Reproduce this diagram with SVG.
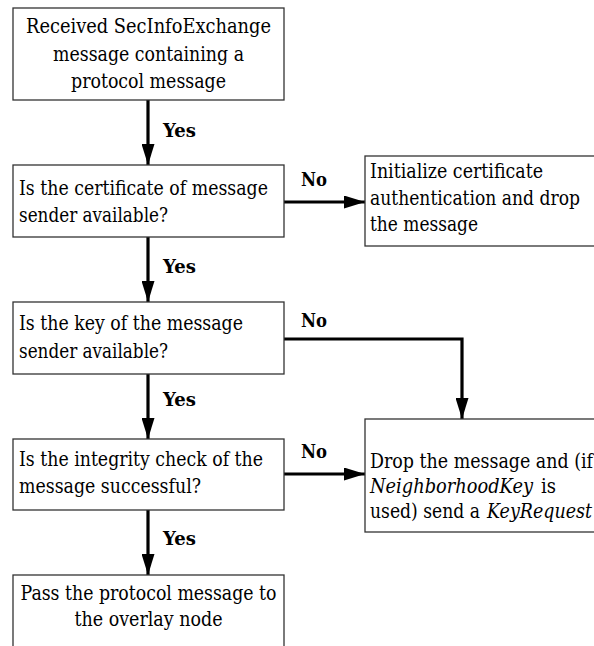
<svg xmlns="http://www.w3.org/2000/svg" width="594" height="646" viewBox="0 0 594 646">
  <style>
    .box { fill: #ffffff; stroke: #333333; stroke-width: 1.3; }
    text { font-family: 'DejaVu Serif', serif; fill: #000000; }
    .t { font-size: 20px; }
    .c { text-anchor: middle; }
    .i { font-style: italic; }
    .lbl { font-size: 19px; font-weight: bold; }
    .edge { fill: none; stroke: #000000; stroke-width: 3.2; }
  </style>
  <defs>
    <marker id="head" viewBox="0 0 21 13" refX="21" refY="6.5" markerUnits="userSpaceOnUse" markerWidth="21" markerHeight="13" orient="auto">
      <path d="M0,0 L21,6.5 L0,13 Z" fill="#000000"/>
    </marker>
  </defs>

  <g id="connectors">
    <line class="edge" x1="148" y1="100" x2="148" y2="165" marker-end="url(#head)"/>
    <text class="lbl" x="163" y="137" textLength="33" lengthAdjust="spacingAndGlyphs">Yes</text>
    <line class="edge" x1="284" y1="202" x2="365" y2="202" marker-end="url(#head)"/>
    <text class="lbl" x="301" y="186" textLength="26" lengthAdjust="spacingAndGlyphs">No</text>
    <line class="edge" x1="148" y1="237" x2="148" y2="302" marker-end="url(#head)"/>
    <text class="lbl" x="163" y="273" textLength="33" lengthAdjust="spacingAndGlyphs">Yes</text>
    <polyline class="edge" points="284,339 462,339 462,419" marker-end="url(#head)"/>
    <text class="lbl" x="301" y="327" textLength="26" lengthAdjust="spacingAndGlyphs">No</text>
    <line class="edge" x1="148" y1="374" x2="148" y2="439" marker-end="url(#head)"/>
    <text class="lbl" x="163" y="406" textLength="33" lengthAdjust="spacingAndGlyphs">Yes</text>
    <line class="edge" x1="284" y1="474" x2="365" y2="474" marker-end="url(#head)"/>
    <text class="lbl" x="301" y="458" textLength="26" lengthAdjust="spacingAndGlyphs">No</text>
    <line class="edge" x1="148" y1="510" x2="148" y2="575" marker-end="url(#head)"/>
    <text class="lbl" x="163" y="545" textLength="33" lengthAdjust="spacingAndGlyphs">Yes</text>
  </g>

  <g id="received">
    <rect class="box" x="13" y="8" width="271" height="92"/>
    <text class="t c" x="148.5" y="33" textLength="245" lengthAdjust="spacingAndGlyphs">Received SecInfoExchange</text>
    <text class="t c" x="148.5" y="61" textLength="191" lengthAdjust="spacingAndGlyphs">message containing a</text>
    <text class="t c" x="148.5" y="88" textLength="155" lengthAdjust="spacingAndGlyphs">protocol message</text>
  </g>

  <g id="cert-check">
    <rect class="box" x="13" y="165" width="271" height="72"/>
    <text class="t" x="19" y="195" textLength="249" lengthAdjust="spacingAndGlyphs">Is the certificate of message</text>
    <text class="t" x="19" y="222" textLength="149" lengthAdjust="spacingAndGlyphs">sender available?</text>
  </g>

  <g id="init-auth">
    <rect class="box" x="365" y="156" width="240" height="90"/>
    <text class="t" x="370" y="178" textLength="173" lengthAdjust="spacingAndGlyphs">Initialize certificate</text>
    <text class="t" x="370" y="205" textLength="210" lengthAdjust="spacingAndGlyphs">authentication and drop</text>
    <text class="t" x="370" y="231" textLength="108" lengthAdjust="spacingAndGlyphs">the message</text>
  </g>

  <g id="key-check">
    <rect class="box" x="13" y="302" width="271" height="72"/>
    <text class="t" x="19" y="330" textLength="224" lengthAdjust="spacingAndGlyphs">Is the key of the message</text>
    <text class="t" x="19" y="358" textLength="149" lengthAdjust="spacingAndGlyphs">sender available?</text>
  </g>

  <g id="integrity-check">
    <rect class="box" x="13" y="439" width="271" height="71"/>
    <text class="t" x="19" y="466" textLength="244" lengthAdjust="spacingAndGlyphs">Is the integrity check of the</text>
    <text class="t" x="19" y="493" textLength="182" lengthAdjust="spacingAndGlyphs">message successful?</text>
  </g>

  <g id="drop">
    <rect class="box" x="365" y="419" width="240" height="113"/>
    <text class="t" x="370" y="468" textLength="223" lengthAdjust="spacingAndGlyphs">Drop the message and (if</text>
    <text class="t i" x="370" y="493" textLength="163" lengthAdjust="spacingAndGlyphs">NeighborhoodKey</text>
    <text class="t" x="541" y="493" textLength="15" lengthAdjust="spacingAndGlyphs">is</text>
    <text class="t" x="370" y="518" textLength="110" lengthAdjust="spacingAndGlyphs">used) send a</text>
    <text class="t i" x="487" y="518" textLength="105" lengthAdjust="spacingAndGlyphs">KeyRequest</text>
  </g>

  <g id="pass">
    <rect class="box" x="13" y="575" width="271" height="80"/>
    <text class="t c" x="148.5" y="600" textLength="256" lengthAdjust="spacingAndGlyphs">Pass the protocol message to</text>
    <text class="t c" x="148.5" y="626" textLength="148" lengthAdjust="spacingAndGlyphs">the overlay node</text>
  </g>
</svg>
